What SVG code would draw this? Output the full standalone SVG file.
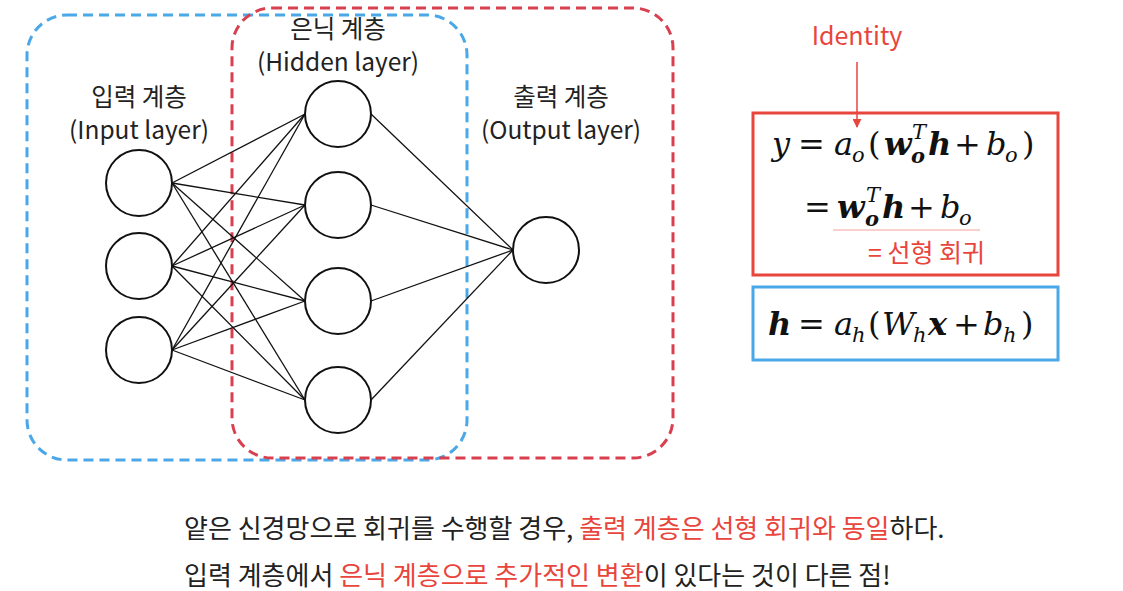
<svg xmlns="http://www.w3.org/2000/svg" width="1123" height="591" viewBox="0 0 1123 591">
<defs>
<style>
.node{fill:#fff;stroke:#111;stroke-width:2}
.edge{stroke:#111;stroke-width:1.3;fill:none}
.lbl{font-family:"Noto Sans CJK KR","Noto Sans",sans-serif;font-size:24.5px;fill:#222;text-anchor:middle}
.txt{font-family:"Noto Sans CJK KR","Noto Sans",sans-serif;font-size:26px;fill:#222}
.red{fill:#E8453C}
.m{font-family:"DejaVu Serif","Liberation Serif",serif;font-size:32px;fill:#111}
.i{font-style:italic}
.bi{font-style:italic;font-weight:bold}
.s{font-size:21px}
</style>
<marker id="arr" viewBox="0 0 10 10" refX="9" refY="5" markerWidth="6" markerHeight="6" orient="auto"><path d="M0,0 L10,5 L0,10 z" fill="#E8453C"/></marker>
</defs>
<rect width="1123" height="591" fill="#fff"/>

<g id="groups">
<rect x="27" y="15" width="440" height="445" rx="40" fill="none" stroke="#4AA8E8" stroke-width="3" stroke-dasharray="10 6"/>
<rect x="232" y="8" width="441" height="450" rx="40" fill="none" stroke="#D9404F" stroke-width="3" stroke-dasharray="10 6"/>
</g>

<g id="connectors">
<line class="edge" x1="172" y1="183" x2="305" y2="114"/>
<line class="edge" x1="172" y1="183" x2="305" y2="205"/>
<line class="edge" x1="172" y1="183" x2="305" y2="301"/>
<line class="edge" x1="172" y1="183" x2="305" y2="400"/>
<line class="edge" x1="172" y1="266" x2="305" y2="114"/>
<line class="edge" x1="172" y1="266" x2="305" y2="205"/>
<line class="edge" x1="172" y1="266" x2="305" y2="301"/>
<line class="edge" x1="172" y1="266" x2="305" y2="400"/>
<line class="edge" x1="172" y1="350" x2="305" y2="114"/>
<line class="edge" x1="172" y1="350" x2="305" y2="205"/>
<line class="edge" x1="172" y1="350" x2="305" y2="301"/>
<line class="edge" x1="172" y1="350" x2="305" y2="400"/>
<line class="edge" x1="371" y1="114" x2="513" y2="250"/>
<line class="edge" x1="371" y1="205" x2="513" y2="250"/>
<line class="edge" x1="371" y1="301" x2="513" y2="250"/>
<line class="edge" x1="371" y1="400" x2="513" y2="250"/>
<line x1="857" y1="62" x2="857" y2="127" stroke="#E8453C" stroke-width="1.5" marker-end="url(#arr)"/>
</g>

<g id="input-nodes">
<circle class="node" cx="139" cy="183" r="33"/>
<circle class="node" cx="139" cy="266" r="33"/>
<circle class="node" cx="139" cy="350" r="33"/>
</g>
<g id="hidden-nodes">
<circle class="node" cx="338" cy="114" r="33"/>
<circle class="node" cx="338" cy="205" r="33"/>
<circle class="node" cx="338" cy="301" r="33"/>
<circle class="node" cx="338" cy="400" r="33"/>
</g>
<g id="output-node">
<circle class="node" cx="546" cy="250" r="33"/>
</g>

<g id="labels">
<text class="lbl" x="338" y="38">은닉 계층</text>
<text class="lbl" x="338" y="71">(Hidden layer)</text>
<text class="lbl" x="139" y="106">입력 계층</text>
<text class="lbl" x="139" y="139">(Input layer)</text>
<text class="lbl" x="561" y="106">출력 계층</text>
<text class="lbl" x="561" y="139">(Output layer)</text>
<text class="lbl red" x="857" y="45" style="font-size:25px">Identity</text>
</g>

<g id="output-eq">
<rect x="753" y="113" width="305" height="162" fill="none" stroke="#E8453C" stroke-width="3"/>
<text class="m"><tspan class="i" x="772" y="155">y</tspan><tspan x="798" y="155">=</tspan><tspan class="i" x="834" y="155">a</tspan><tspan class="i s" x="852" y="162">o</tspan><tspan x="868" y="155">(</tspan><tspan class="bi" x="884" y="155">w</tspan><tspan class="i s" x="912" y="139">T</tspan><tspan class="bi s" x="911" y="163">o</tspan><tspan class="bi" x="928" y="155">h</tspan><tspan x="954" y="155">+</tspan><tspan class="i" x="986" y="155">b</tspan><tspan class="i s" x="1005" y="162">o</tspan><tspan x="1022" y="155">)</tspan></text>
<text class="m"><tspan x="804" y="218">=</tspan><tspan class="bi" x="837" y="218">w</tspan><tspan class="i s" x="866" y="202">T</tspan><tspan class="bi s" x="865" y="226">o</tspan><tspan class="bi" x="882" y="218">h</tspan><tspan x="908" y="218">+</tspan><tspan class="i" x="940" y="218">b</tspan><tspan class="i s" x="959" y="225">o</tspan></text>
<line x1="833" y1="230" x2="980" y2="230" stroke="#F0A09A" stroke-width="1"/>
<text class="txt red" x="868" y="262" style="font-size:25px">= 선형 회귀</text>
</g>

<g id="hidden-eq">
<rect x="753" y="287" width="305" height="73" fill="none" stroke="#4AA8E8" stroke-width="3"/>
<text class="m"><tspan class="bi" x="768" y="335">h</tspan><tspan x="798" y="335">=</tspan><tspan class="i" x="834" y="335">a</tspan><tspan class="i s" x="852" y="342">h</tspan><tspan x="868" y="335">(</tspan><tspan class="i" x="882" y="335">W</tspan><tspan class="i s" x="913" y="342">h</tspan><tspan class="bi" x="928" y="335">x</tspan><tspan x="953" y="335">+</tspan><tspan class="i" x="983" y="335">b</tspan><tspan class="i s" x="1003" y="342">h</tspan><tspan x="1021" y="335">)</tspan></text>
</g>

<g id="caption">
<text class="txt" x="184" y="538">얕은 신경망으로 회귀를 수행할 경우, <tspan class="red">출력 계층은 선형 회귀와 동일</tspan>하다.</text>
<text class="txt" x="184" y="585">입력 계층에서 <tspan class="red">은닉 계층으로 추가적인 변환</tspan>이 있다는 것이 다른 점!</text>
</g>
</svg>
